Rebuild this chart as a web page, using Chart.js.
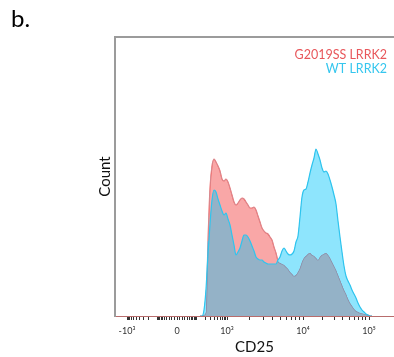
<!DOCTYPE html>
<html lang="en">
<head>
<meta charset="UTF-8">
<title>CD25 histogram</title>
<script src="https://cdn.jsdelivr.net/npm/chart.js"></script>
<style>
  body { margin: 0; background: #fff; overflow: hidden; }
  #wrap { position: relative; width: 394px; height: 357px; }
  #panel { position: absolute; left: 11px; top: 6px; font: 24px Lato, "DejaVu Sans", sans-serif; line-height: 24px; color: #000; }
  canvas { display: block; }
</style>
</head>
<body>
<div id="wrap">
  <canvas id="histo" width="394" height="357"></canvas>
  <div id="panel">b.</div>
</div>
<script>
// histogram bins, in display channels of the biexponential CD25 axis
const binChannel = [
  85, 87, 89, 91, 93, 95, 97, 99, 101, 103,
  105, 107, 109, 111, 113, 115, 117, 119, 121, 123,
  125, 127, 129, 131, 133, 135, 137, 139, 141, 143,
  145, 147, 149, 151, 153, 155, 157, 159, 161, 163,
  165, 167, 169, 171, 173, 175, 177, 179, 181, 183,
  185, 187, 189, 191, 193, 195, 197, 199, 201, 203,
  205, 207, 209, 211, 213, 215, 217, 219, 221, 223,
  225, 227, 229, 231, 233, 235, 237, 239, 241, 243,
  245, 247, 249, 251, 253, 255, 257
];
const g2019ss = [
  0, 0, 1, 4, 75, 128, 150, 157, 154, 150,
  145, 137, 135, 137, 134, 128, 121, 114, 111, 113,
  116, 118, 117, 114, 111, 108, 108, 109, 106, 100,
  94, 88, 85, 83, 82, 79, 76, 69, 63, 55,
  53, 52, 51, 49, 47, 44, 42, 40, 41, 44,
  48, 54, 58, 60, 62, 63, 61, 60, 58, 56,
  59, 61, 62, 63, 61, 58, 54, 50, 46, 41,
  36, 31, 26, 22, 17, 13, 10, 7, 5, 4,
  3, 2.5, 2, 1.5, 1, 0, 0
];
const wt = [
  0, 0, 6, 27, 62, 92, 116, 126, 124, 117,
  111, 105, 101, 103, 97, 91, 81, 71, 61, 64,
  68, 75, 81, 81, 79, 75, 70, 65, 59, 57,
  56, 56, 54, 53, 52, 52, 52, 52, 52, 56,
  59, 65, 68, 65, 62, 61, 62, 65, 74, 80,
  99, 119, 126, 127, 134, 143, 151, 158, 167, 162,
  156, 148, 144, 145, 142, 136, 129, 121, 112, 95,
  79, 64, 50, 40, 35, 31, 26, 22, 18, 13,
  9, 6, 4, 2, 1, 0, 0
];
const tickValues = [-1000, 0, 1000, 10000, 100000];
const tickLabels = ['-10³', '0', '10³', '10⁴', '10⁵'];

const FONT = 'Lato, "DejaVu Sans", sans-serif';
const RED_LINE = '#ef6a6a', PINK = '#f9a7a7', RED_TEXT = '#e8575b';
const CYAN_LINE = '#2ec5ef', CYAN = '#8ee5fd', CYAN_TEXT = '#35c6ee';
const OVERLAP = '#94b2c7', HIDDEN_EDGE = '#8e8ca6';

// CD25 value -> display channel (linear-ish near 0, log above 10^3)
function chan(v) {
  const a = Math.abs(v), s = Math.sign(v);
  if (a <= 1000) return 62 + s * 50 * Math.asinh(a / 48) / Math.asinh(1000 / 48);
  if (a <= 1e4) return 62 + s * (50 + 76 * Math.log10(a / 1000));
  return 62 + s * (126 + 66 * Math.log10(a / 1e4));
}
const majorCh = tickValues.map(chan);
const minorCh = [];
[10, 100].forEach(d => { for (let m = 1; m <= 9; m++) { minorCh.push(chan(m * d)); minorCh.push(chan(-m * d)); } });
[1000, 10000].forEach(d => { for (let m = 2; m <= 9; m++) minorCh.push(chan(m * d)); });

const pts = ys => ys.map((y, i) => ({ x: binChannel[i], y: y }));

const framePlugin = {
  id: 'frame',
  afterDraw(chart) {
    const { ctx, chartArea } = chart;
    ctx.save();
    ctx.strokeStyle = '#9b9b9b';
    ctx.lineWidth = 2;
    ctx.beginPath();
    ctx.moveTo(chartArea.left - 1, chartArea.top);
    ctx.lineTo(chart.width, chartArea.top);
    ctx.stroke();
    // legend, right aligned inside the plot
    ctx.font = '12.5px ' + FONT;
    ctx.textAlign = 'right';
    ctx.textBaseline = 'alphabetic';
    chart.data.datasets.filter(d => d.label).forEach((d, i) => {
      ctx.fillStyle = d.textColor;
      ctx.fillText(d.label, chartArea.right - 7, chartArea.top + 22 + i * 14);
    });
    ctx.restore();
  }
};

const common = { pointRadius: 0, cubicInterpolationMode: 'monotone' };

new Chart(document.getElementById('histo'), {
  type: 'line',
  data: {
    datasets: [
      Object.assign({
        label: 'G2019SS LRRK2', textColor: RED_TEXT, data: pts(g2019ss), order: 2,
        borderColor: RED_LINE, borderWidth: 1.2,
        fill: { target: 1, above: PINK, below: 'rgba(0,0,0,0)' },
        segment: {
          borderColor: c => (g2019ss[c.p0DataIndex] + g2019ss[c.p1DataIndex] < wt[c.p0DataIndex] + wt[c.p1DataIndex]) ? HIDDEN_EDGE : RED_LINE
        }
      }, common),
      Object.assign({
        label: 'WT LRRK2', textColor: CYAN_TEXT, data: pts(wt), order: 1,
        borderColor: CYAN_LINE, borderWidth: 1.2,
        fill: { target: 0, above: CYAN, below: 'rgba(0,0,0,0)' }
      }, common),
      Object.assign({ data: pts(g2019ss), order: 3, borderColor: 'rgba(0,0,0,0)', borderWidth: 0, fill: 'origin', backgroundColor: OVERLAP }, common),
      Object.assign({ data: pts(wt), order: 3, borderColor: 'rgba(0,0,0,0)', borderWidth: 0, fill: 'origin', backgroundColor: OVERLAP }, common)
    ]
  },
  options: {
    responsive: false,
    animation: false,
    devicePixelRatio: 1,
    layout: { padding: { top: 37, left: 93, right: 0, bottom: 0 } },
    plugins: { legend: { display: false }, tooltip: { enabled: false } },
    scales: {
      x: {
        type: 'linear', min: 0, max: 279,
        afterBuildTicks: s => { s.ticks = majorCh.concat(minorCh).sort((a, b) => a - b).map(v => ({ value: v })); },
        afterFit: s => { s.height = 41; },
        grid: { drawOnChartArea: false, tickLength: 4, color: '#333', tickWidth: 1 },
        border: { color: '#b86c6c', width: 1 },
        ticks: {
          autoSkip: false, maxRotation: 0, minRotation: 0, padding: 6,
          font: { family: FONT, size: 9 }, color: '#333',
          callback: v => { const i = majorCh.findIndex(c => Math.abs(c - v) < 1e-6); return i >= 0 ? tickLabels[i] : ''; }
        },
        title: { display: true, text: 'CD25', color: '#111', font: { family: FONT, size: 15 }, padding: { top: 0, bottom: 1 } }
      },
      y: {
        min: 0, max: 279,
        ticks: { display: false },
        grid: { display: false },
        border: { color: '#9b9b9b', width: 2 },
        afterFit: s => { s.width = 22; },
        title: { display: true, text: 'Count', color: '#111', font: { family: FONT, size: 15 }, padding: { top: 3, bottom: 0 } }
      }
    }
  },
  plugins: [framePlugin]
});
</script>
</body>
</html>
